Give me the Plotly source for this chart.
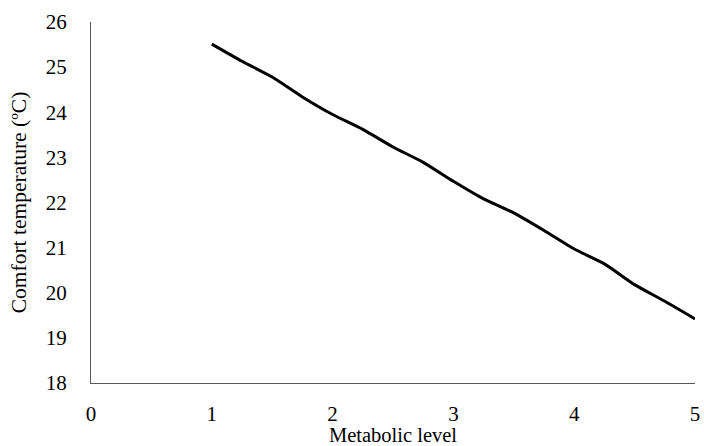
import plotly.graph_objects as go

metabolic_level = [1.0, 1.25, 1.5, 1.75, 2.0, 2.25, 2.5, 2.75, 3.0, 3.25, 3.5, 3.75, 4.0, 4.25, 4.5, 4.75, 5.0]
comfort_temp = [25.51, 25.13, 24.78, 24.34, 23.95, 23.62, 23.23, 22.89, 22.47, 22.08, 21.77, 21.38, 20.97, 20.64, 20.18, 19.81, 19.42]

x_ticks = [0, 1, 2, 3, 4, 5]
y_ticks = [18, 19, 20, 21, 22, 23, 24, 25, 26]

font_family = "Liberation Serif, Times New Roman, serif"

fig = go.Figure()
fig.add_trace(go.Scatter(
    x=metabolic_level, y=comfort_temp, mode="lines",
    line=dict(color="black", width=3, shape="spline", smoothing=0.6),
    showlegend=False, cliponaxis=False,
))

fig.update_layout(
    width=704, height=446,
    margin=dict(l=91, r=4, t=22, b=61),
    paper_bgcolor="white", plot_bgcolor="white",
    font=dict(family=font_family, color="black", size=21),
)
fig.update_xaxes(
    range=[0, 5], tickvals=x_ticks, showgrid=False, zeroline=False,
    showline=True, linecolor="#595959", linewidth=1.3,
    ticks="", ticklabelstandoff=12, tickfont=dict(size=21),
    ticklabeloverflow="allow",
    title=dict(text="Metabolic level", font=dict(size=20.5), standoff=1),
)
fig.update_yaxes(
    range=[18, 26], tickvals=y_ticks, showgrid=False, zeroline=False,
    showline=True, linecolor="#595959", linewidth=1.3,
    ticks="", ticklabelstandoff=19, tickfont=dict(size=21),
    title=dict(text="Comfort temperature (ºC)", font=dict(size=21.5), standoff=13),
)

fig.write_html("out.html")
